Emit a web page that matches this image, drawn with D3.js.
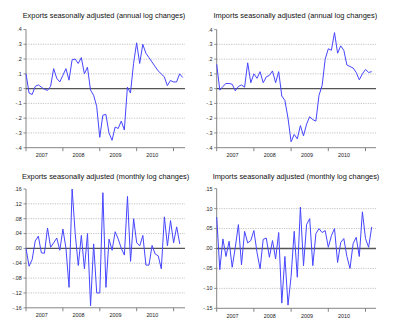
<!DOCTYPE html>
<html><head><meta charset="utf-8">
<script src="https://cdn.jsdelivr.net/npm/d3@7/dist/d3.min.js"></script>
<style>html,body{margin:0;padding:0;background:#fff}svg{display:block}</style>
</head><body><svg id="c" width="393" height="330"></svg>
<script>
const titles = [
  "Exports seasonally adjusted (annual log changes)",
  "Imports seasonally adjusted (annual log changes)",
  "Exports seasonally adjusted (monthly log changes)",
  "Imports seasonally adjusted (monthly log changes)"
];
const years = ["2007", "2008", "2009", "2010"];
const annualTicks = [0.4, 0.3, 0.2, 0.1, 0, -0.1, -0.2, -0.3, -0.4];
const annualTickLabels = [".4", ".3", ".2", ".1", ".0", "-.1", "-.2", "-.3", "-.4"];
const expMonthlyTicks = [0.16, 0.12, 0.08, 0.04, 0, -0.04, -0.08, -0.12, -0.16];
const expMonthlyTickLabels = [".16", ".12", ".08", ".04", ".00", "-.04", "-.08", "-.12", "-.16"];
const impMonthlyTicks = [0.15, 0.10, 0.05, 0, -0.05, -0.10, -0.15];
const impMonthlyTickLabels = [".15", ".10", ".05", ".00", "-.05", "-.10", "-.15"];

// monthly observations starting 2007M01
const exportsAnnual = [0.10, -0.03, -0.04, 0.015, 0.025, 0.01, -0.005, -0.012, 0.015, 0.135,
  0.07, 0.045, 0.09, 0.135, 0.057, 0.195, 0.2, 0.17, 0.21, 0.1,
  0.145, -0.01, -0.045, -0.12, -0.33, -0.18, -0.175, -0.3, -0.35, -0.26,
  -0.27, -0.22, -0.28, 0.01, -0.03, 0.17, 0.31, 0.17, 0.30, 0.24,
  0.21, 0.18, 0.15, 0.12, 0.10, 0.08, 0.02, 0.055, 0.045, 0.045,
  0.10, 0.075];
const importsAnnual = [0.165, -0.01, 0.015, 0.035, 0.035, 0.03, -0.015, 0.015, 0.025, 0.01,
  0.175, 0.04, 0.1, 0.07, 0.115, 0.04, 0.08, 0.09, 0.12, 0.04,
  0.115, -0.05, -0.08, -0.2, -0.36, -0.31, -0.34, -0.25, -0.32, -0.24,
  -0.19, -0.21, -0.22, -0.045, 0.02, 0.2, 0.27, 0.26, 0.38, 0.24,
  0.29, 0.26, 0.16, 0.15, 0.14, 0.11, 0.06, 0.1, 0.13, 0.11,
  0.115];
const exportsMonthly = [0.0, -0.048, -0.03, 0.02, 0.033, -0.012, -0.013, 0.055, 0.003, 0.015,
  0.028, -0.005, 0.052, 0.0, -0.105, 0.16, 0.04, -0.046, 0.035, -0.055,
  0.04, -0.155, 0.012, -0.12, -0.12, 0.15, -0.105, 0.025, -0.005, 0.045,
  0.025, 0.0, -0.018, 0.14, -0.035, 0.08, 0.015, 0.007, 0.035, -0.045,
  -0.045, 0.008, -0.015, -0.02, -0.055, 0.085, 0.007, 0.075, 0.015, 0.058,
  0.012];
const importsMonthly = [0.079, -0.053, 0.024, -0.02, 0.018, -0.047, 0.003, 0.06, -0.041, 0.043,
  0.014, 0.02, 0.045, -0.01, -0.051, 0.023, 0.026, -0.022, 0.02, -0.026,
  0.04, -0.137, -0.02, -0.142, -0.07, 0.043, -0.072, 0.104, -0.043, 0.06,
  0.075, -0.043, 0.037, 0.05, 0.04, 0.045, 0.003, 0.032, 0.05, -0.035,
  0.015, 0.025, -0.02, -0.05, 0.012, 0.028, -0.02, 0.092, 0.025, 0.003,
  0.054];

const panels = [
  {title: titles[0], data: exportsAnnual, ticks: annualTicks, labels: annualTickLabels,
   x0: 26, x48: 173.5, xEnd: 185, yTop: 29.5, yBot: 147.7, titleX: 104, titleY: 18.3, titleW: 162.6},
  {title: titles[1], data: importsAnnual, ticks: annualTicks, labels: annualTickLabels,
   x0: 216.7, x48: 365.5, xEnd: 376, yTop: 29.6, yBot: 147.7, titleX: 295.3, titleY: 18.3, titleW: 163.7},
  {title: titles[2], data: exportsMonthly, ticks: expMonthlyTicks, labels: expMonthlyTickLabels,
   x0: 26, x48: 173.6, xEnd: 185, yTop: 189, yBot: 307.8, titleX: 105.6, titleY: 179.3, titleW: 167.3},
  {title: titles[3], data: importsMonthly, ticks: impMonthlyTicks, labels: impMonthlyTickLabels,
   x0: 216.7, x48: 365.5, xEnd: 376, yTop: 188.7, yBot: 308.3, titleX: 296, titleY: 179.3, titleW: 166.7}
];

const svg = d3.select("#c");
const font = "'Liberation Sans', Arial, sans-serif";

panels.forEach(p => {
  const g = svg.append("g");
  const x = d3.scaleLinear().domain([0, 48]).range([p.x0, p.x48]);
  const y = d3.scaleLinear().domain([p.ticks[p.ticks.length - 1], p.ticks[0]]).range([p.yBot, p.yTop]);

  // grid lines
  p.ticks.forEach((t, k) => {
    if (k === 0 || k === p.ticks.length - 1 || t === 0) return;
    g.append("line").attr("x1", p.x0).attr("x2", p.xEnd)
      .attr("y1", y(t)).attr("y2", y(t))
      .attr("stroke", "#b4b4b4").attr("stroke-width", 0.8).attr("stroke-dasharray", "1.2,1.2");
  });

  // y axis
  g.append("line").attr("x1", p.x0).attr("x2", p.x0).attr("y1", p.yTop).attr("y2", p.yBot)
    .attr("stroke", "#777").attr("stroke-width", 0.9);
  p.ticks.forEach((t, k) => {
    g.append("line").attr("x1", p.x0 - 2.5).attr("x2", p.x0).attr("y1", y(t)).attr("y2", y(t))
      .attr("stroke", "#777").attr("stroke-width", 0.8);
    g.append("text").attr("x", p.x0 - 4.2).attr("y", y(t) + 1.9)
      .attr("text-anchor", "end").attr("font-family", font).attr("font-size", 5.4)
      .attr("fill", "#222").text(p.labels[k]);
  });

  // x axis
  g.append("line").attr("x1", p.x0).attr("x2", p.xEnd).attr("y1", p.yBot).attr("y2", p.yBot)
    .attr("stroke", "#777").attr("stroke-width", 0.9);
  [0, 12, 24, 36, 48].forEach(m => {
    g.append("line").attr("x1", x(m)).attr("x2", x(m)).attr("y1", p.yBot).attr("y2", p.yBot + 3.5)
      .attr("stroke", "#777").attr("stroke-width", 0.9);
  });
  years.forEach((yr, k) => {
    g.append("text").attr("x", x(k * 12 + 5.1)).attr("y", p.yBot + 9.4)
      .attr("text-anchor", "middle").attr("font-family", font).attr("font-size", 5.4)
      .attr("fill", "#222").text(yr);
  });

  // zero line
  g.append("line").attr("x1", p.x0).attr("x2", p.xEnd).attr("y1", y(0)).attr("y2", y(0))
    .attr("stroke", "#555").attr("stroke-width", 1.3);

  // series
  const line = d3.line().x((d, i) => x(i)).y(d => y(d));
  g.append("path").datum(p.data).attr("d", line)
    .attr("fill", "none").attr("stroke", "#4646ff").attr("stroke-width", 1)
    .attr("stroke-linejoin", "round");

  // title
  g.append("text").attr("x", p.titleX).attr("y", p.titleY)
    .attr("text-anchor", "middle").attr("font-family", font).attr("font-size", 7.5)
    .attr("textLength", p.titleW).attr("lengthAdjust", "spacingAndGlyphs")
    .attr("fill", "#111").text(p.title);
});
</script>
</body></html>
